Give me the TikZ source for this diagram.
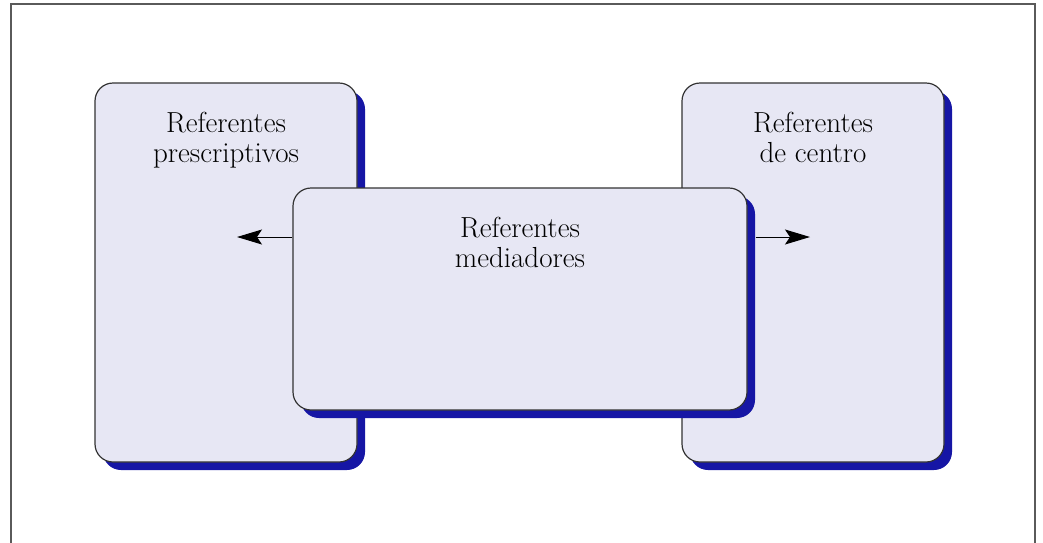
\documentclass[tikz,border=0pt]{standalone}
\usepackage{tikz}
\usetikzlibrary{arrows.meta,positioning,shadows}
\definecolor{boxfill}{RGB}{231,231,244}
\definecolor{shadowblue}{RGB}{22,22,165}
\definecolor{framegray}{RGB}{90,90,90}

\begin{document}
\begin{tikzpicture}[x=1pt,y=-1pt,
  every node/.style={font=\fontsize{29}{30}\selectfont},
  refbox/.style={draw=black!80, line width=1.2pt, fill=boxfill, rounded corners=18pt, inner sep=0pt,
    drop shadow={shadow xshift=8pt, shadow yshift=-8pt, fill=shadowblue, opacity=1}},
  reftext/.style={align=center, inner sep=0pt},
  refarrow/.style={-{Stealth[length=25pt,width=15pt,inset=5pt]}, line width=1pt}]
  \useasboundingbox (0,0) rectangle (1043,542);
  % frame
  \draw[framegray, line width=1.5pt] (11,560) -- (11,4) -- (1035,4) -- (1035,560);
  % outer boxes
  \node[refbox, minimum width=262pt, minimum height=379pt] (pres) at (226,272.5) {};
  \node[refbox, minimum width=262pt, minimum height=379pt] (cent) at (813,272.5) {};
  \node[reftext, below=30pt of pres.north] (presT) {Referentes\\prescriptivos};
  \node[reftext, below=30pt of cent.north] (centT) {Referentes\\de centro};
  % middle box
  \node[refbox, minimum width=454pt, minimum height=222pt] (med) at (520,299) {};
  \node[reftext, below=30pt of med.north] (medT) {Referentes\\mediadores};
  % arrows
  \coordinate (lefttip) at (237,237);
  \coordinate (righttip) at (810,237);
  \draw[refarrow] (lefttip -| med.west) -- (lefttip);
  \draw[refarrow] ([xshift=8pt]righttip -| med.east) -- (righttip);
\end{tikzpicture}
\end{document}
